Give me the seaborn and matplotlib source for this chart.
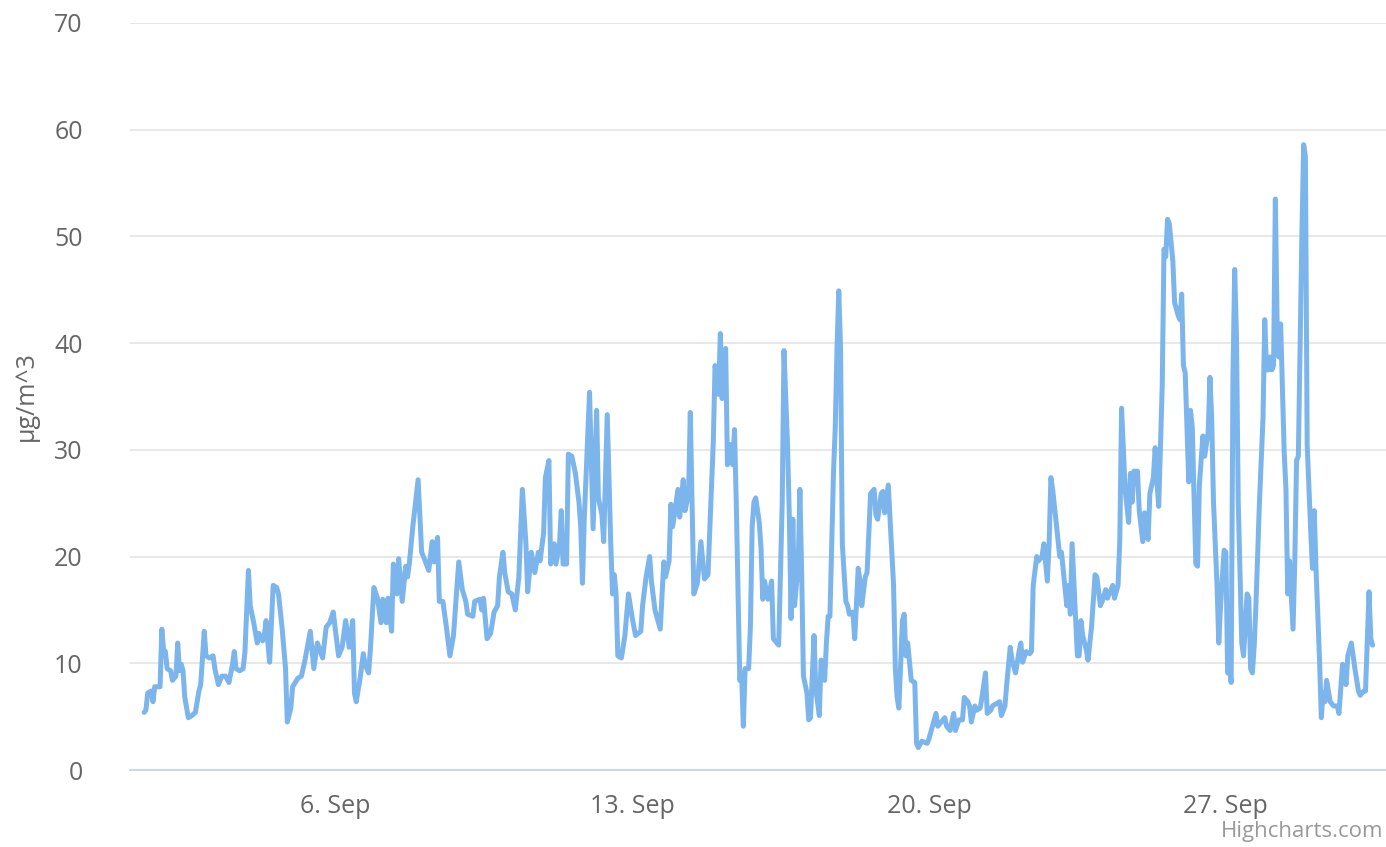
import pandas as pd
import numpy as np
import matplotlib
matplotlib.use("Agg")
import matplotlib.pyplot as plt
import matplotlib.dates as mdates
import seaborn as sns

# hourly PM2.5 readings, hours counted from 1 Sep 00:00
hours = [
    12, 13, 14, 16, 17, 18, 21, 22, 23, 24, 25, 27, 28, 30, 31, 32, 33, 34, 35, 37,
    39, 41, 43, 44, 46, 47, 49, 51, 52, 54, 56, 58, 60, 62, 63, 64, 66, 68, 69, 71,
    72, 74, 76, 77, 79, 80, 81, 82, 83, 85, 87, 88, 90, 92, 93,
    95, 96, 99, 101, 103, 106, 108, 110, 113, 115, 117, 119, 120, 122, 124, 126, 128, 130, 131,
    132, 134, 136, 137, 139, 140, 142, 144, 146, 147, 149, 150, 152, 153, 155, 156, 158, 160,
    161, 162, 164, 167, 169, 171, 173, 175, 176, 178, 179, 181,
    183, 185, 187, 190, 192, 194, 195, 198, 199, 202, 203, 204, 206, 208, 210, 212, 213, 215,
    216, 218, 220, 222, 224, 226, 228, 229, 231, 233, 235, 236, 238, 239, 241, 242, 244, 245,
    247, 248, 249, 251, 252, 254, 256, 258, 259, 260, 261, 264, 266, 268,
    269, 271, 272, 274, 276, 277, 278, 279, 280, 282, 284, 286, 288, 290, 293, 294, 296, 298,
    299, 301, 304, 306, 307, 309, 310, 311, 312, 314, 315, 317, 318, 320, 321, 323, 325, 327,
    329, 331, 334, 335, 337, 338, 339, 341, 342, 344, 345, 346, 347, 349, 350, 351, 352, 354,
    355, 356,
    357, 358, 360, 361, 362, 363, 365, 367, 368, 371, 373, 374, 376, 377, 378, 379, 380, 381,
    382, 383, 384, 385, 387, 388, 389, 391, 392, 394, 395, 397, 398, 399, 400, 402, 403, 404,
    405, 406, 407, 409, 410, 411, 413, 414, 416, 417, 418, 420, 421, 423, 425, 426, 427, 429,
    430, 431, 433, 434, 436, 437, 438, 439, 441, 442, 443,
    444, 446, 448, 449, 450, 452, 455, 456, 458, 460, 461, 463, 465, 466, 468, 470, 471, 473,
    475, 476, 478, 479, 480, 482, 483, 485, 486, 488, 489, 491, 492, 494, 496, 497, 499, 500,
    502, 503, 505, 507, 508, 509, 511, 513, 514, 515, 517, 518, 520, 521, 523, 524, 525, 526,
    528, 530, 531, 533,
    534, 535, 536, 537, 539, 540, 541, 542, 543, 545, 546, 548, 550, 551, 553, 554, 556, 557,
    558, 560, 561, 563, 564, 565, 567, 569, 570, 571, 572, 574, 575, 577, 578, 580, 581, 583,
    584, 585, 586, 588, 589, 590, 591, 592, 594, 595, 597, 598, 599, 600, 601, 603, 604, 605,
    607, 608, 609, 611, 612, 614, 615, 616, 617, 619, 620,
    621, 623, 624, 625, 626, 627, 628, 629, 630, 631, 633, 634, 636, 637, 638, 639, 640, 641,
    643, 645, 646, 647, 648, 649, 650, 651, 652, 653, 654, 655, 657, 658, 659, 660, 662, 663,
    664, 665, 667, 668, 669, 670, 672, 673, 674, 675, 677, 678, 679, 680, 681, 683, 685, 687,
    688, 690, 692, 693, 695, 697, 699, 700, 702, 703, 705, 706, 707,
]

pm25 = [
    5.4, 5.6, 7.2, 7.4, 6.4, 7.8, 7.8, 13.2, 11.3, 11.1, 9.5, 9.3, 8.4, 8.8, 11.9, 9.3, 9.9, 9.3, 6.8, 4.9,
    5.1, 5.4, 7.4, 8.0, 13.0, 10.7, 10.5, 10.7, 9.5, 8.0, 8.8, 8.8, 8.2, 9.9, 11.1, 9.5, 9.3, 9.5, 11.0, 18.7,
    15.4, 13.8, 11.9, 12.8, 12.1, 12.6, 14.0, 11.9, 10.1, 17.3, 17.1, 16.5, 13.4, 9.5, 4.5,
    5.8, 7.8, 8.6, 8.8, 10.3, 13.0, 9.5, 11.9, 10.5, 13.4, 13.8, 14.8, 13.4, 10.7, 11.5, 14.0, 11.5, 14.0, 7.2,
    6.4, 8.4, 10.9, 9.9, 9.1, 11.3, 17.1, 16.1, 13.8, 16.0, 13.8, 16.1, 13.0, 19.3, 16.5, 19.8, 15.8, 19.1,
    18.1, 19.3, 22.8, 27.2, 20.4, 19.6, 18.7, 21.4, 19.5, 21.8, 15.8, 15.8,
    13.4, 10.7, 12.6, 19.5, 16.9, 15.8, 14.6, 14.4, 15.8, 16.0, 15.0, 16.1, 12.3, 12.8, 14.8, 15.4, 18.1, 20.4,
    18.5, 16.7, 16.5, 15.0, 18.1, 26.3, 21.2, 16.7, 20.4, 18.5, 20.4, 19.6, 22.2, 27.4, 29.0, 19.3, 21.2, 19.3,
    21.2, 24.3, 19.3, 19.3, 29.6, 29.4, 27.8, 25.1, 22.8, 17.5, 23.5, 35.4, 22.6, 33.7,
    25.5, 23.9, 21.4, 33.3, 21.2, 16.5, 18.3, 16.5, 10.7, 10.5, 12.6, 16.5, 14.4, 12.6, 13.0, 15.4, 18.1, 20.0,
    17.7, 15.0, 13.2, 19.5, 18.1, 19.6, 24.9, 22.8, 23.9, 26.3, 23.7, 27.2, 24.3, 25.9, 33.5, 16.5, 17.5, 21.4,
    17.9, 18.3, 30.7, 37.9, 35.2, 40.9, 34.8, 39.5, 28.6, 30.5, 28.6, 31.9, 25.1, 8.4, 9.1, 4.1, 9.5, 9.5,
    13.4, 22.8,
    25.1, 25.5, 23.2, 20.8, 16.0, 17.7, 16.0, 17.7, 12.3, 11.7, 25.1, 39.3, 30.5, 23.9, 14.2, 23.5, 15.4, 17.3,
    18.9, 26.3, 18.5, 8.8, 7.2, 4.7, 4.9, 12.6, 7.6, 5.1, 10.3, 8.4, 11.9, 14.4, 14.4, 27.8, 32.1, 39.5,
    44.9, 39.5, 21.2, 15.8, 15.4, 14.6, 14.8, 12.3, 18.9, 17.7, 15.4, 18.1, 18.5, 25.9, 26.3, 23.9, 23.5, 25.9,
    26.1, 24.1, 26.7, 23.5, 17.3, 9.5, 6.8, 5.8, 14.0, 14.6, 10.7,
    11.9, 8.4, 8.2, 2.5, 2.1, 2.7, 2.5, 2.9, 4.1, 5.3, 4.1, 4.5, 4.9, 4.1, 3.7, 5.3, 3.7, 4.7,
    4.7, 6.8, 6.4, 6.0, 4.5, 6.0, 5.6, 5.8, 6.8, 9.1, 5.3, 5.6, 6.0, 6.2, 6.4, 5.1, 6.0, 8.0,
    11.5, 10.3, 9.1, 11.1, 11.9, 10.1, 11.1, 10.9, 11.1, 17.3, 20.0, 19.6, 20.0, 21.2, 17.7, 21.2, 27.4, 26.3,
    23.2, 20.0, 20.4, 17.0,
    15.4, 17.3, 14.6, 21.2, 14.2, 10.7, 10.7, 14.0, 12.6, 11.3, 10.3, 13.4, 18.3, 18.1, 15.4, 15.8, 16.9, 16.1,
    16.5, 17.3, 16.1, 17.3, 21.6, 33.9, 26.3, 23.2, 27.8, 25.1, 28.0, 28.0, 24.3, 21.4, 24.1, 21.6, 25.9, 27.4,
    30.2, 27.0, 24.7, 36.0, 48.8, 48.1, 51.6, 51.2, 47.7, 43.8, 42.6, 42.2, 44.6, 37.9, 37.2, 27.0, 33.7, 32.1,
    19.3, 19.1, 26.7, 31.3, 29.4, 31.7, 36.8, 32.9, 25.1, 17.3, 11.9,
    15.4, 20.6, 20.4, 9.1, 9.5, 8.2, 36.8, 46.9, 40.7, 25.1, 11.9, 10.7, 16.5, 16.1, 9.5, 9.1, 11.5, 15.4,
    25.1, 32.9, 42.2, 37.5, 37.5, 38.7, 37.5, 37.9, 53.5, 41.8, 38.7, 41.8, 29.8, 26.3, 16.5, 19.6, 13.2, 19.6,
    29.0, 29.4, 50.0, 58.6, 57.5, 30.5, 22.4, 18.9, 24.3, 18.9, 10.3, 4.9, 7.2, 6.4, 8.4, 6.4, 6.0, 6.0,
    5.3, 9.9, 8.0, 10.7, 11.9, 9.5, 7.4, 7.0, 7.4, 7.4, 16.7, 12.3, 11.7,
]

y_ticks = [0, 10, 20, 30, 40, 50, 60, 70]
start = pd.Timestamp("2016-09-01")

df = pd.DataFrame({
    "time": start + pd.to_timedelta(hours, unit="h"),
    "pm25": pm25,
})

sns.set_style("white")
plt.rcParams["font.family"] = ["Open Sans", "DejaVu Sans"]

fig = plt.figure(figsize=(13.86, 8.47), dpi=100)
ax = fig.add_axes([130 / 1386, 1 - 770 / 847, 1 - 130 / 1386, (770 - 23) / 847])

sns.lineplot(data=df, x="time", y="pm25", ax=ax, color="#7cb5ec", linewidth=3.6,
             solid_joinstyle="round", solid_capstyle="round")

ax.set_ylim(0, 70)
ax.set_xlim(start + pd.Timedelta(hours=4.0), start + pd.Timedelta(hours=714.6))
ax.set_yticks(y_ticks)
ax.yaxis.grid(True, color="#e6e6e6", linewidth=1.3)
ax.xaxis.grid(False)

for side in ["top", "right", "left"]:
    ax.spines[side].set_visible(False)
ax.spines["bottom"].set_color("#ccd6eb")
ax.spines["bottom"].set_linewidth(1.5)

ax.xaxis.set_major_locator(mdates.DayLocator(bymonthday=[6, 13, 20, 27]))
ax.xaxis.set_major_formatter(mdates.DateFormatter("%-d. %b"))
ax.tick_params(axis="x", colors="#ccd6eb", length=12, width=1.5, labelcolor="#666666",
               labelsize=18, pad=5)
ax.tick_params(axis="y", length=0, labelcolor="#666666", labelsize=18, pad=34)

ax.set_xlabel("")
ax.set_ylabel("μg/m^3", color="#666666", fontsize=18, labelpad=11)

fig.text(0.998, 0.006, "Highcharts.com", ha="right", va="bottom", color="#999999", fontsize=16)

fig.savefig("out.png", dpi=100)
